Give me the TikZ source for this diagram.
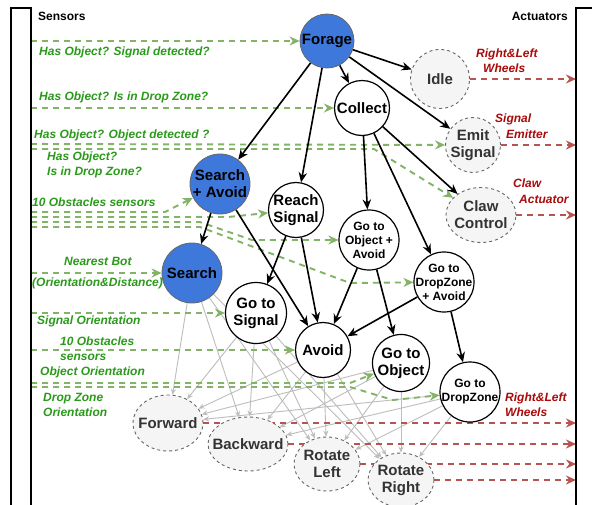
\documentclass[tikz,border=0pt]{standalone}
\usepackage{fontspec}
\setmainfont{Liberation Sans}
\usetikzlibrary{shapes.geometric,arrows.meta,backgrounds}
\definecolor{bluefill}{HTML}{3E78DB}
\definecolor{grnline}{HTML}{82B366}
\definecolor{grntext}{HTML}{2A9A1A}
\definecolor{redline}{HTML}{B85450}
\definecolor{redtext}{HTML}{AA0A0A}
\definecolor{grayfill}{HTML}{F5F5F5}
\definecolor{graydraw}{HTML}{666666}
\definecolor{graytext}{HTML}{333333}
\definecolor{grayarrow}{HTML}{BDBDBD}
\begin{document}
\begin{tikzpicture}[x=1pt,y=-1pt,
  bluec/.style={circle,draw=black!60,line width=0.8pt,fill=bluefill,inner sep=0pt},
  whitec/.style={circle,draw=black,line width=1.2pt,fill=white,inner sep=0pt},
  grayc/.style={ellipse,draw=graydraw,line width=0.9pt,dash pattern=on 3pt off 3pt,fill=grayfill,inner sep=0pt},
  btxt/.style={inner sep=0pt,align=center,font=\fontsize{15}{17}\selectfont\bfseries,text=black},
  stxt/.style={inner sep=0pt,align=center,font=\fontsize{12}{14}\selectfont\bfseries,text=black},
  gtxt/.style={inner sep=0pt,align=center,font=\fontsize{15}{17}\selectfont\bfseries,text=graytext},
  glbl/.style={anchor=west,inner sep=0pt,align=left,text=grntext,font=\fontsize{12}{15}\selectfont\bfseries\itshape},
  rlbl/.style={anchor=west,inner sep=0pt,align=left,text=redtext,font=\fontsize{12}{15}\selectfont\bfseries\itshape},
  hdr/.style={anchor=west,inner sep=0pt,font=\fontsize{12}{14}\selectfont\bfseries},
  blk/.style={line width=1.6pt,-{Stealth[length=10pt,width=8.5pt]}},
  grn/.style={draw=grnline,line width=1.9pt,dash pattern=on 6pt off 5pt,-{Stealth[length=10pt,width=9pt,fill=grnline]}},
  redarr/.style={draw=redline,line width=1.9pt,dash pattern=on 6pt off 5pt,-{Stealth[length=10pt,width=9pt,fill=redline]}},
  grayarr/.style={draw=grayarrow,line width=0.9pt,-{Stealth[length=6pt,width=5pt]}}
]
\useasboundingbox (0,0) rectangle (592,504);

% frames
\draw[line width=1.4pt] (11,510) -- (11,8) -- (31,8) -- (31,510);
\draw[line width=1.4pt] (600,8) -- (576,8) -- (576,510);
\node[hdr] (sensors) at (38,16) {Sensors};
\node[hdr,anchor=east] (actuators) at (568,16) {Actuators};

% nodes
\node[bluec,minimum size=54pt,label={[btxt]center:Forage}] (forage) at (327,41) {};
\node[grayc,minimum width=59pt,minimum height=59pt,label={[gtxt]center:Idle}] (idle) at (440,79) {};
\node[whitec,minimum size=55pt,label={[btxt]center:Collect}] (collect) at (362,108) {};
\node[grayc,minimum width=55pt,minimum height=55pt,label={[gtxt]center:{Emit\\Signal}}] (emit) at (473,145) {};
\node[grayc,minimum width=70pt,minimum height=55pt,label={[gtxt]center:{Claw\\Control}}] (claw) at (481,215) {};
\node[bluec,minimum size=60pt,label={[btxt]center:{Search\\+ Avoid}}] (sa) at (220,184) {};
\node[whitec,minimum size=55pt,label={[btxt]center:{Reach\\Signal}}] (rs) at (296,210) {};
\node[whitec,minimum size=60pt,label={[stxt]center:{Go to\\Object +\\Avoid}}] (goa) at (369,240) {};
\node[whitec,minimum size=60pt,label={[stxt]center:{Go to\\DropZone\\+ Avoid}}] (dza) at (444,282) {};
\node[bluec,minimum size=60pt,label={[btxt]center:Search}] (search) at (192,273) {};
\node[whitec,minimum size=61pt,label={[btxt]center:{Go to\\Signal}}] (gs) at (256,313) {};
\node[whitec,minimum size=55pt,label={[btxt]center:Avoid}] (avoid) at (323,350) {};
\node[whitec,minimum size=57pt,label={[btxt]center:{Go to\\Object}}] (go) at (401,363) {};
\node[whitec,minimum size=60pt,label={[stxt]center:{Go to\\DropZone}}] (gdz) at (470,392) {};
\node[grayc,minimum width=70pt,minimum height=56pt,label={[gtxt]center:Forward}] (fwd) at (168,423) {};
\node[grayc,minimum width=80pt,minimum height=54pt,label={[gtxt]center:Backward}] (bwd) at (248,444) {};
\node[grayc,minimum width=66pt,minimum height=54pt,label={[gtxt]center:{Rotate\\Left}}] (rl) at (327,464) {};
\node[grayc,minimum width=66pt,minimum height=54pt,label={[gtxt]center:{Rotate\\Right}}] (rr) at (401,480) {};

% sensor labels
\node[glbl] (l1) at (39,52) {Has Object? Signal detected?};
\node[glbl] (l2) at (39,97) {Has Object? Is in Drop Zone?};
\node[glbl] (l3) at (34,135) {Has Object? Object detected ?};
\node[glbl] (l4) at (47,164.5) {Has Object?\\Is in Drop Zone?};
\node[glbl] (l5) at (32,202) {10 Obstacles sensors};
\node[glbl] (l6) at (64,261) {Nearest Bot};
\node[glbl] (l7) at (32,283) {(Orientation\&Distance)};
\node[glbl] (l8) at (37,321) {Signal Orientation};
\node[glbl] (l9) at (60,348.5) {10 Obstacles\\sensors};
\node[glbl] (l10) at (40,372) {Object Orientation};
\node[glbl] (l11) at (43,404.5) {Drop Zone\\Orientation};

% actuator labels
\node[rlbl] (r1) at (476,54) {Right\&Left};
\node[rlbl] (r1b) at (483,68) {Wheels};
\node[rlbl] (r2) at (495,119) {Signal};
\node[rlbl] (r2b) at (506,134) {Emitter};
\node[rlbl] (r3) at (513,183) {Claw};
\node[rlbl] (r3b) at (519,199) {Actuator};
\node[rlbl] (r4) at (505,405) {Right\&Left\\Wheels};

% coordinates
\coordinate (s1) at (31,41);
\coordinate (s2) at (31,108);
\coordinate (s3) at (31,144);
\coordinate (s4) at (31,149);
\coordinate (s4w) at (374,149);
\coordinate (s5a) at (31,212);
\coordinate (s5aw) at (165,212);
\coordinate (s5b) at (31,217);
\coordinate (s5bw) at (228,217);
\coordinate (s5c) at (31,222);
\coordinate (s5cw) at (200,222);
\coordinate (s5cw2) at (252,240);
\coordinate (s5d) at (31,227);
\coordinate (s5dw) at (200,227);
\coordinate (s5dw2) at (350,283);
\coordinate (s6) at (31,273);
\coordinate (s7) at (31,313);
\coordinate (s8) at (31,350);
\coordinate (s9) at (31,383);
\coordinate (s9w) at (350,383);
\coordinate (s10) at (31,387);
\coordinate (s10w) at (350,387);
\coordinate (s10w2) at (393,400);
\coordinate (a1) at (576,79);
\coordinate (a2) at (576,145);
\coordinate (a3) at (576,215);
\coordinate (a4) at (576,423);
\coordinate (a5) at (576,444);
\coordinate (a6) at (576,464);
\coordinate (a7) at (576,480);

\begin{pgfonlayer}{background}
\fill[white] (0,0) rectangle (592,504);
% gray motor arrows
\foreach \s in {search,gs,avoid,go,gdz}
  \foreach \t in {fwd,bwd,rl,rr}
    \draw[grayarr] (\s) -- (\t);
% red actuator arrows
\draw[redarr] (idle) -- (a1);
\draw[redarr] (emit) -- (a2);
\draw[redarr] (claw) -- (a3);
\draw[redarr] (fwd) -- (a4);
\draw[redarr] (bwd) -- (a5);
\draw[redarr] (rl) -- (a6);
\draw[redarr] (rr) -- (a7);
% green sensor arrows
\draw[grn] (s1) -- (forage);
\draw[grn] (s2) -- (collect);
\draw[grn] (s3) -- (emit);
\draw[grn] (s4) -- (s4w) -- (claw);
\draw[grn] (s5a) -- (s5aw) -- (sa);
\draw[grn] (s5b) -- (s5bw) -- (rs);
\draw[grn] (s5c) -- (s5cw) -- (s5cw2) -- (goa);
\draw[grn] (s5d) -- (s5dw) -- (s5dw2) -- (dza);
\draw[grn] (s6) -- (search);
\draw[grn] (s7) -- (gs);
\draw[grn] (s8) -- (avoid);
\draw[grn] (s9) -- (s9w) -- (go);
\draw[grn] (s10) -- (s10w) -- (s10w2) -- (gdz);
% black hierarchy arrows
\draw[blk] (forage) -- (idle);
\draw[blk] (forage) -- (collect);
\draw[blk] (forage) -- (emit);
\draw[blk] (forage) -- (sa);
\draw[blk] (forage) -- (rs);
\draw[blk] (collect) -- (goa);
\draw[blk] (collect) -- (dza);
\draw[blk] (collect) -- (claw);
\draw[blk] (sa) -- (search);
\draw[blk] (sa) -- (avoid);
\draw[blk] (rs) -- (gs);
\draw[blk] (rs) -- (avoid);
\draw[blk] (goa) -- (avoid);
\draw[blk] (goa) -- (go);
\draw[blk] (dza) -- (avoid);
\draw[blk] (dza) -- (gdz);
\end{pgfonlayer}
\end{tikzpicture}
\end{document}
